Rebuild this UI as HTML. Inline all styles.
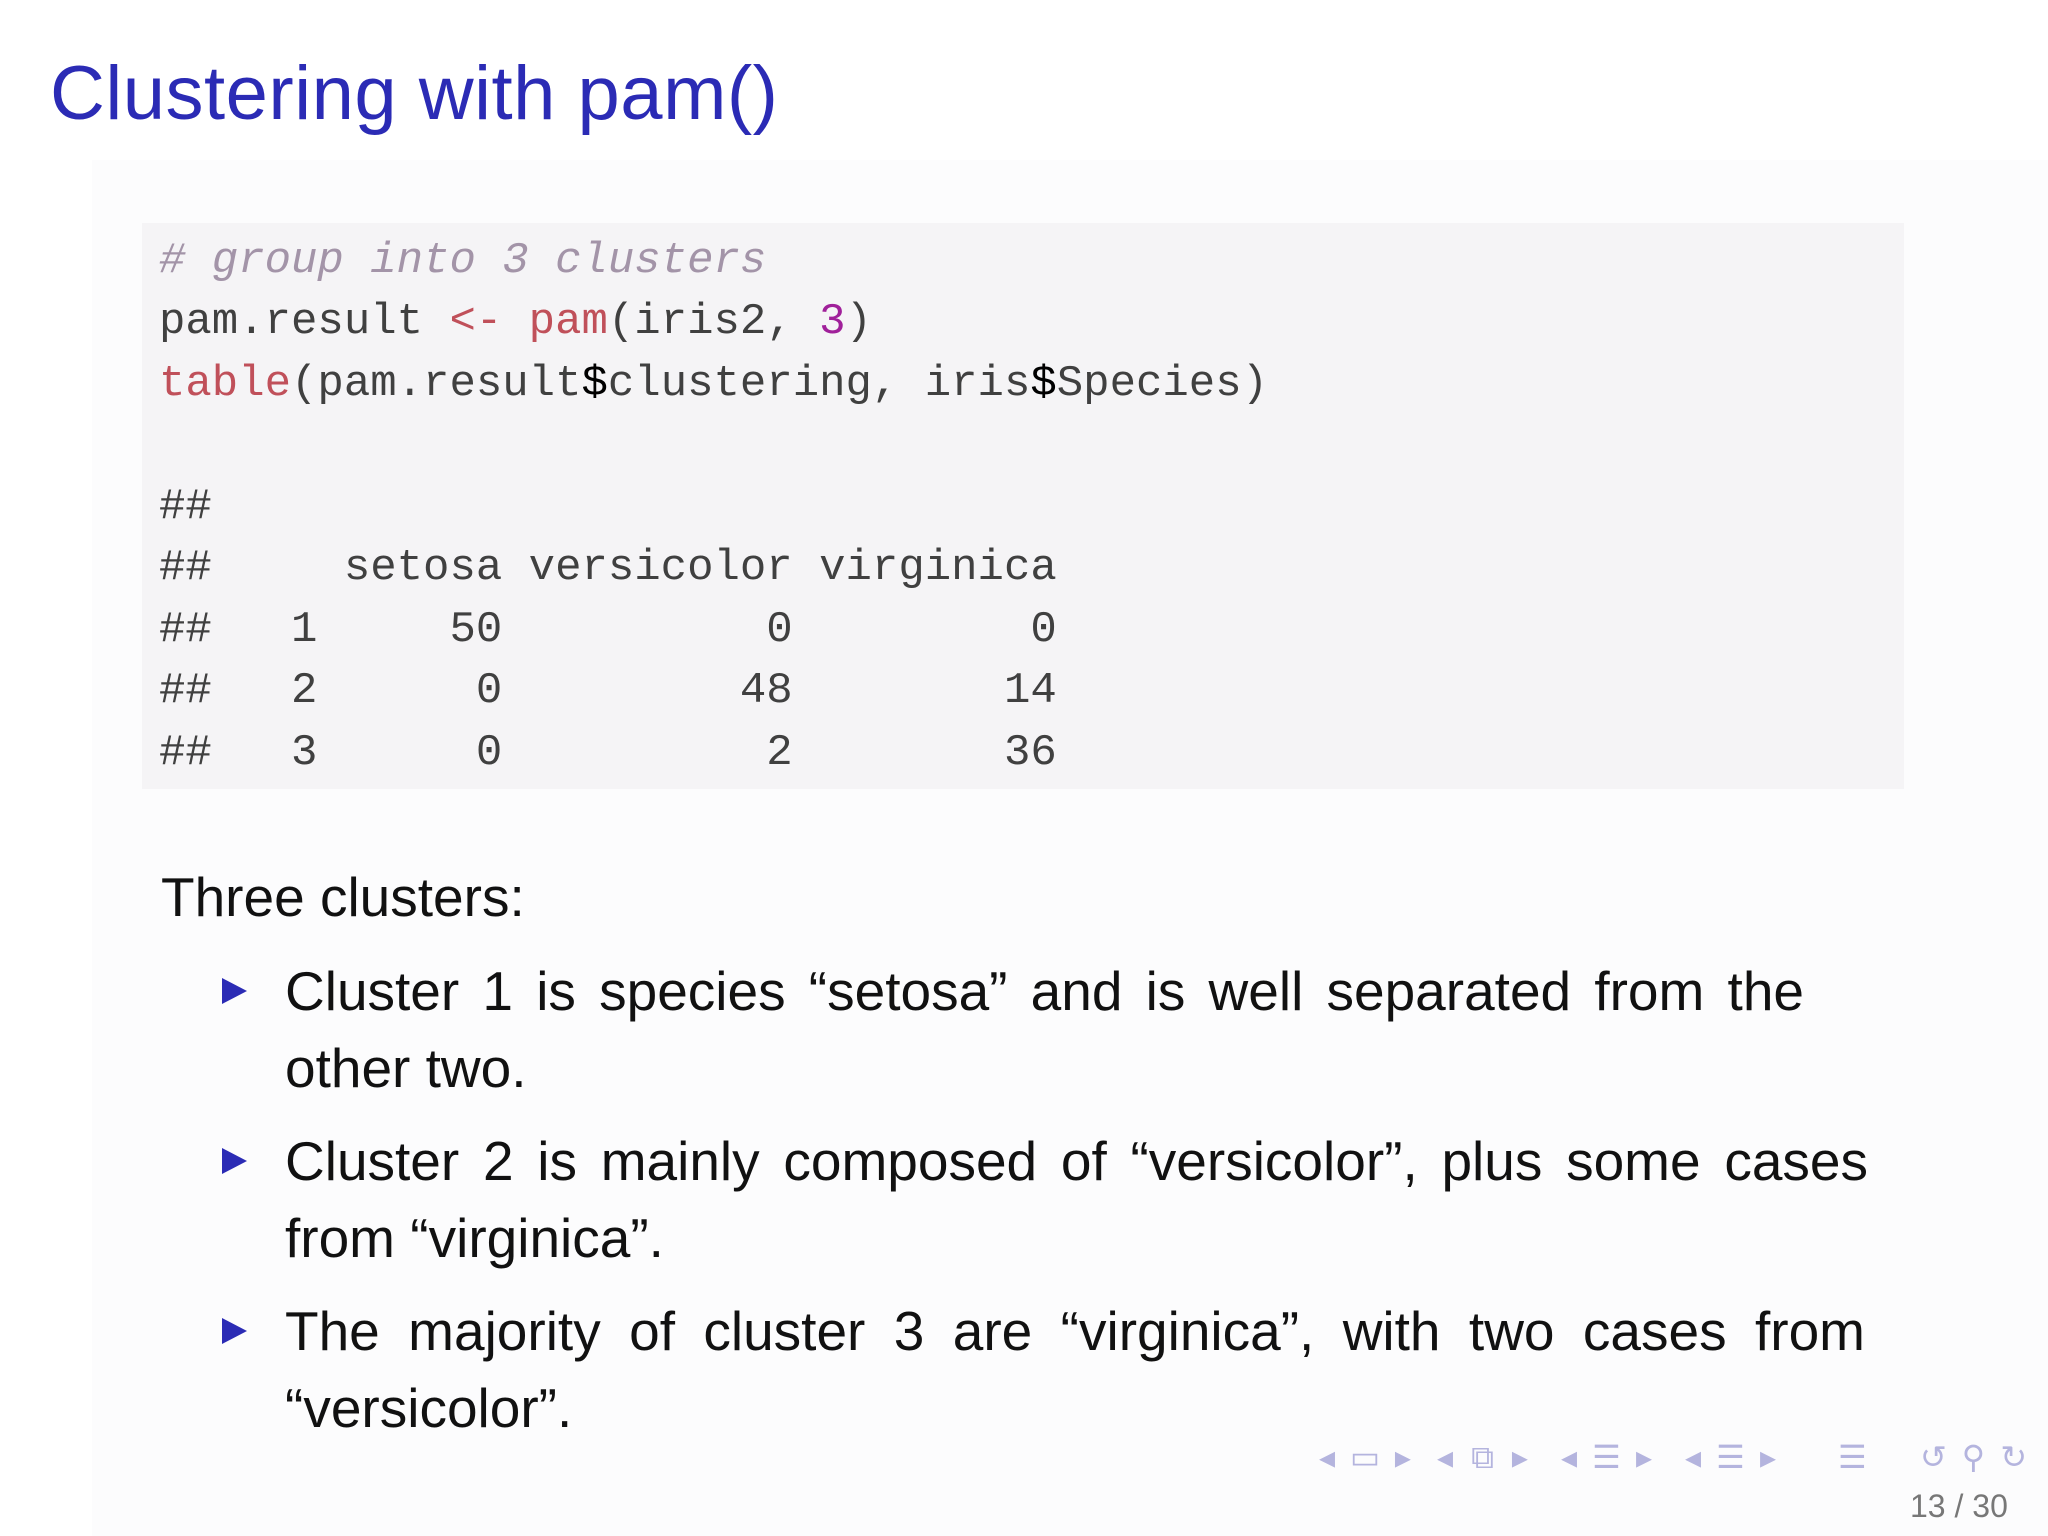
<!DOCTYPE html>
<html><head><meta charset="utf-8"><style>
html,body{margin:0;padding:0;background:#fff;}
body{width:2048px;height:1536px;position:relative;overflow:hidden;font-family:"Liberation Sans","DejaVu Sans",sans-serif;}
.bgpanel{position:absolute;left:92px;top:160px;width:1956px;height:1376px;background:#fcfcfd;}
.title{position:absolute;left:50px;top:50px;font-size:76px;color:#2b2bb5;white-space:nowrap;letter-spacing:0.5px;}
.code{position:absolute;left:142px;top:223px;width:1762px;height:566px;background:#f5f4f6;}
.cl{position:absolute;left:159px;font-family:"Liberation Mono","DejaVu Sans Mono",monospace;font-size:44px;color:#404040;white-space:pre;line-height:1;}
.cm{color:#a394a8;font-style:italic;}
.fn{color:#c0505a;}
.nm{color:#a0209a;}
.dl{color:#000;}
.txt{position:absolute;font-size:55px;color:#111;white-space:nowrap;line-height:1;}
.j{text-align:justify;text-align-last:justify;white-space:normal;}
.tri{position:absolute;left:222px;width:0;height:0;border-top:13px solid transparent;border-bottom:13px solid transparent;border-left:25px solid #2b2bb5;}
.nav{position:absolute;top:1441px;color:#b4b4de;font-size:32px;white-space:nowrap;display:flex;justify-content:space-between;line-height:1;}
.pg{position:absolute;left:1910px;top:1488px;font-size:32px;color:#777;}
</style></head><body>
<div class="bgpanel"></div>
<div class="title">Clustering with pam()</div>
<div class="code"></div>
<div class="cl" style="top:239px"><span class="cm"># group into 3 clusters</span></div>
<div class="cl" style="top:300px">pam.result <span class="fn">&lt;-</span> <span class="fn">pam</span>(iris2, <span class="nm">3</span>)</div>
<div class="cl" style="top:362px"><span class="fn">table</span>(pam.result<span class="dl">$</span>clustering, iris<span class="dl">$</span>Species)</div>
<div class="cl" style="top:485px">##</div>
<div class="cl" style="top:546px">##     setosa versicolor virginica</div>
<div class="cl" style="top:608px">##   1     50          0         0</div>
<div class="cl" style="top:669px">##   2      0         48        14</div>
<div class="cl" style="top:731px">##   3      0          2        36</div>

<div class="txt" style="left:161px;top:870px;">Three clusters:</div>
<div class="tri" style="top:978px"></div>
<div class="txt j" style="left:285px;top:964px;width:1519px;">Cluster 1 is species “setosa” and is well separated from the</div>
<div class="txt" style="left:285px;top:1041px;">other two.</div>
<div class="tri" style="top:1148px"></div>
<div class="txt j" style="left:285px;top:1134px;width:1583px;">Cluster 2 is mainly composed of “versicolor”, plus some cases</div>
<div class="txt" style="left:285px;top:1211px;">from “virginica”.</div>
<div class="tri" style="top:1318px"></div>
<div class="txt j" style="left:285px;top:1304px;width:1580px;">The majority of cluster 3 are “virginica”, with two cases from</div>
<div class="txt" style="left:285px;top:1381px;">“versicolor”.</div>

<div class="nav" style="left:1319px;width:92px;"><span>◂</span><span>▭</span><span>▸</span></div>
<div class="nav" style="left:1437px;width:91px;"><span>◂</span><span>⧉</span><span>▸</span></div>
<div class="nav" style="left:1561px;width:91px;"><span>◂</span><span>☰</span><span>▸</span></div>
<div class="nav" style="left:1685px;width:91px;"><span>◂</span><span>☰</span><span>▸</span></div>
<div class="nav" style="left:1838px;width:30px;"><span>☰</span></div>
<div class="nav" style="left:1920px;width:107px;"><span>↺</span><span>⚲</span><span>↻</span></div>
<div class="pg">13 / 30</div>
</body></html>
